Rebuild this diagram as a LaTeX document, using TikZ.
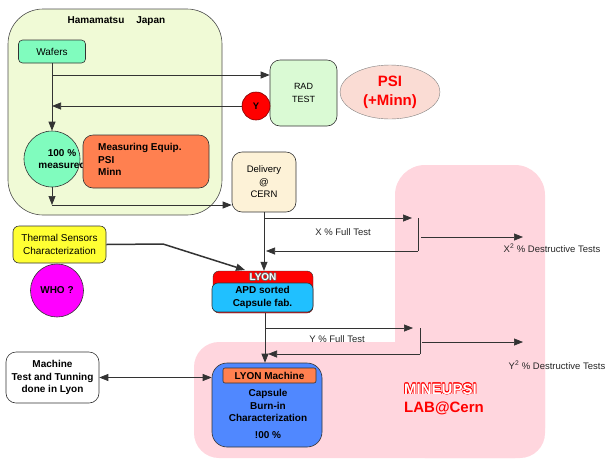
\documentclass[tikz,border=0pt]{standalone}
\usepackage{fontspec}
\setmainfont{Liberation Sans}
\usetikzlibrary{arrows.meta,shapes.geometric}
\definecolor{hamagreen}{RGB}{240,250,214}
\definecolor{mint}{RGB}{128,252,190}
\definecolor{coral}{RGB}{255,128,80}
\definecolor{radgreen}{RGB}{218,250,212}
\definecolor{psipink}{RGB}{250,220,212}
\definecolor{cream}{RGB}{253,242,215}
\definecolor{yel}{RGB}{255,255,51}
\definecolor{whopink}{RGB}{255,0,255}
\definecolor{lyonblue}{RGB}{32,192,255}
\definecolor{capblue}{RGB}{80,136,255}
\definecolor{pinkbg}{RGB}{255,214,222}
\begin{document}
\begin{tikzpicture}[x=1pt,y=-1pt,>={Triangle[length=9pt,width=7pt]},
  txt/.style={inner sep=0pt,align=center,font=\fontsize{10}{12.5}\selectfont},
  btxt/.style={txt,font=\fontsize{10}{12.5}\selectfont\bfseries},
  blk/.style={txt,draw=black!80,line width=0.6pt},
  bblk/.style={btxt,draw=black!80,line width=0.6pt},
  con/.style={draw=black!80,line width=0.7pt},
  lbl/.style={inner sep=0pt,font=\fontsize{9.5}{11}\selectfont,text=black!85}]
\useasboundingbox (0,0) rectangle (611,459);
\fill[pinkbg,rounded corners=30pt] (395,165) rectangle (545,458);
\fill[pinkbg,rounded corners=25pt] (194,342) rectangle (545,458);
\draw[black!70,fill=hamagreen,rounded corners=35pt,line width=0.6pt] (8,9) rectangle (222,215);
\node[btxt] (hama) at (116.5,21) {Hamamatsu\hspace{1.2em}Japan};
\node[blk,fill=mint,rounded corners=4pt,minimum width=67pt,minimum height=23pt] (wafers) at (52,51.5) {Wafers};
\node[blk,circle,fill=mint,minimum size=56pt] (meas) at (52,159) {};
\node[btxt] (meastxt) at (62,159) {100 \%\\measured};
\node[blk,fill=coral,rounded corners=10pt,minimum width=126pt,minimum height=53pt] (equip) at (146,161.5) {};
\node[btxt,align=left,anchor=west] (equiptxt) at (98,159.5) {Measuring Equip.\\PSI\\Minn};
\node[blk,fill=radgreen,rounded corners=10pt,minimum width=67pt,minimum height=66pt,font=\fontsize{9}{13}\selectfont] (rad) at (303.5,93) {RAD\\TEST};
\node[bblk,circle,fill=red,draw=red!50!black,minimum size=28pt,font=\fontsize{9.5}{10}\selectfont\bfseries] (ycirc) at (256,106) {Y};
\node[ellipse,draw=black!50,fill=psipink,minimum width=100pt,minimum height=54pt,inner sep=0pt,align=center,text=red,font=\fontsize{15}{19}\selectfont\bfseries] (psi) at (390,92) {PSI\\(+Minn)};
\node[blk,fill=cream,rounded corners=10pt,minimum width=64pt,minimum height=60pt,font=\fontsize{9.5}{12.5}\selectfont] (deliv) at (264,182) {Delivery\\@\\CERN};
\node[blk,fill=yel,rounded corners=6pt,minimum width=93pt,minimum height=37pt] (thermal) at (59.5,244.5) {Thermal Sensors\\Characterization};
\node[bblk,circle,fill=whopink,minimum size=53pt] (who) at (57,290.5) {WHO ?};
\node[draw=black!80,fill=red,rounded corners=6pt,minimum width=100pt,minimum height=42pt,inner sep=0pt] (lyon) at (263,292) {};
\node[bblk,fill=lyonblue,rounded corners=6pt,minimum width=101pt,minimum height=29pt] (apd) at (262.5,297.5) {APD sorted\\Capsule fab.};
\foreach \a in {0,45,...,315}
  \node[btxt,text=black!60] at ([shift={(\a:0.6pt)}]263,277) {LYON};
\node[btxt,text=white] (lyontxt) at (263,277) {LYON};
\node[blk,fill=capblue,rounded corners=15pt,minimum width=110pt,minimum height=84pt] (capsule) at (267,405) {};
\node[bblk,fill=coral,rounded corners=2pt,minimum width=93pt,minimum height=15pt] (lyonmach) at (269.5,375.5) {LYON Machine};
\node[btxt] (captxt) at (268,414) {Capsule\\Burn-in\\Characterization\\[4pt]!00 \%};
\node[bblk,fill=white,rounded corners=10pt,minimum width=93pt,minimum height=51pt] (mach) at (52.5,377.5) {Machine\\Test and Tunning\\done in Lyon};
\foreach \a in {0,30,...,330}
  \node[anchor=west,inner sep=0pt,text=red,font=\fontsize{15}{18}\selectfont\bfseries] at ([shift={(\a:0.55pt)}]404,389) {MINEUPSI};
\node[anchor=west,inner sep=0pt,text=white,font=\fontsize{15}{18}\selectfont\bfseries] (mineupsi) at (404,389) {MINEUPSI};
\node[anchor=west,inner sep=0pt,text=red,font=\fontsize{15}{18}\selectfont\bfseries] (labcern) at (404,408) {LAB@Cern};
\coordinate (wbr) at (52,75);
\coordinate (mbot) at (52,205);
\draw[con,->] (wafers.south) -- (meas.north);
\draw[con,->] (wbr) -- (wbr -| rad.west);
\draw[con,->] (ycirc.west) -- (ycirc.west -| wafers.south);
\draw[con,->] (meas.south) -- (mbot);
\draw[con,->] (mbot) -- (mbot -| deliv.west);
\coordinate (xbr) at (264,218);
\coordinate (xtip) at (412,218);
\coordinate (xtop) at (418,218);
\coordinate (xbot) at (418,251);
\coordinate (xret) at (266,251);
\coordinate (xd1) at (421,237);
\coordinate (xd2) at (523,237);
\draw[con,->] (deliv.south) -- (deliv.south |- lyon.north);
\draw[con,->] (xbr) -- (xtip);
\draw[con] (xtop) -- (xbot);
\draw[con,->] (xbot) -- (xret);
\draw[con,->] (xd1) -- (xd2);
\node[lbl] (xfull) at (343,232) {X \% Full Test};
\node[lbl] (xdest) at (552,248) {X\textsuperscript{2} \% Destructive Tests};
\coordinate (tk) at (163,244);
\coordinate (lyontl) at (245,270);
\draw[con,line width=1.5pt,->] (thermal.east) -- (tk) -- (lyontl);
\coordinate (ybr) at (265,328);
\coordinate (ytip) at (413,328);
\coordinate (ytop) at (420,328);
\coordinate (ybot) at (420,354);
\coordinate (yret) at (268,354);
\coordinate (yd1) at (422,342);
\coordinate (yd2) at (523,342);
\draw[con,->] ([xshift=2pt]lyon.south) -- ([xshift=2pt]lyon.south |- capsule.north);
\draw[con,->] (ybr) -- (ytip);
\draw[con] (ytop) -- (ybot);
\draw[con,->] (ybot) -- (yret);
\draw[con,->] (yd1) -- (yd2);
\node[lbl] (yfull) at (337,339) {Y \% Full Test};
\node[lbl] (ydest) at (557,365) {Y\textsuperscript{2} \% Destructive Tests};
\draw[con,<->] (mach.east) -- (mach.east -| capsule.west);
\end{tikzpicture}
\end{document}
